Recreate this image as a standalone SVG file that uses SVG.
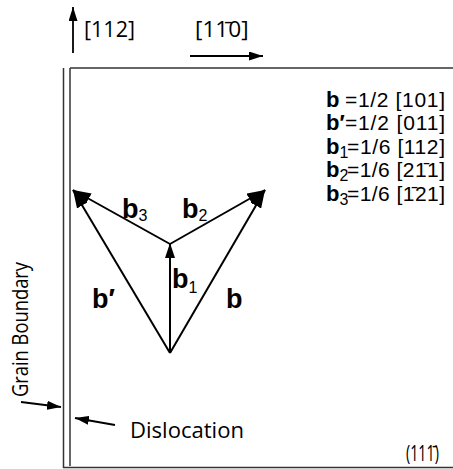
<svg xmlns="http://www.w3.org/2000/svg" width="453" height="469" viewBox="0 0 453 469">
<style>
.frame{stroke:#333;stroke-width:1.5;fill:none}
.vec{stroke:#000;stroke-width:2;fill:none}
.ax{stroke:#000;stroke-width:1.8;fill:none}
.hum{font-family:"Open Sans","Liberation Sans",sans-serif;font-size:22px;fill:#000}
.leg{font-family:"Liberation Sans",Arial,sans-serif;font-size:21px;fill:#000}
.bb{font-family:"Liberation Sans",Arial,sans-serif;font-weight:bold;font-size:27px;fill:#000}
.lb{font-family:"Liberation Sans",Arial,sans-serif;font-weight:bold;font-size:22px;fill:#000}
.sub{font-family:"Liberation Sans",Arial,sans-serif;font-weight:normal;font-size:16px;fill:#000}
</style>
<defs>
<marker id="ah" viewBox="0 0 18 12" refX="18" refY="6" markerWidth="18" markerHeight="12" orient="auto" markerUnits="userSpaceOnUse"><path d="M0,0 L18,6 L0,12 z" fill="#000"/></marker>
<marker id="ah2" viewBox="0 0 15 10" refX="15" refY="5" markerWidth="15" markerHeight="10" orient="auto" markerUnits="userSpaceOnUse"><path d="M0,0 L15,5 L0,10 z" fill="#000"/></marker>
<marker id="ah3" viewBox="0 0 14 9" refX="14" refY="4.5" markerWidth="14" markerHeight="9" orient="auto" markerUnits="userSpaceOnUse"><path d="M0,0 L14,4.5 L0,9 z" fill="#000"/></marker>
</defs>

<g id="frame">
<line class="frame" x1="63.5" y1="68" x2="63.5" y2="468"/>
<line class="frame" x1="70" y1="68" x2="70" y2="466"/>
<line class="frame" x1="70" y1="68" x2="453" y2="68"/>
<line class="frame" x1="63" y1="467.5" x2="453" y2="467.5"/>
</g>

<g id="axes">
<line class="ax" x1="73" y1="53" x2="73" y2="7" marker-end="url(#ah3)"/>
<line class="ax" x1="190" y1="56" x2="263" y2="56" marker-end="url(#ah3)"/>
</g>
<g id="axis-labels">
<text class="hum" x="84" y="37" textLength="51" lengthAdjust="spacingAndGlyphs">[112]</text>
<text class="hum" transform="translate(195,37) scale(1.03,1)" x="0" y="0">[11̄0]</text>
<text class="hum" transform="translate(406,461) scale(0.68,1)" x="0" y="0" style="font-size:21px">(111̄)</text>
</g>

<g id="connectors">
<line class="vec" x1="170" y1="353" x2="73" y2="190" marker-end="url(#ah)"/>
<line class="vec" x1="170" y1="353" x2="265" y2="190" marker-end="url(#ah)"/>
<line class="vec" x1="170" y1="353" x2="170" y2="243" marker-end="url(#ah2)"/>
<line class="vec" x1="170" y1="244" x2="73" y2="190" marker-end="url(#ah)"/>
<line class="vec" x1="170" y1="244" x2="265" y2="190" marker-end="url(#ah)"/>
</g>

<g id="vector-labels">
<text class="bb" x="122" y="218">b<tspan class="sub" dy="3">3</tspan></text>
<text class="bb" x="182" y="218">b<tspan class="sub" dy="3">2</tspan></text>
<text class="bb" x="172" y="288">b<tspan class="sub" dy="5">1</tspan></text>
<text class="bb" x="92" y="308">b′</text>
<text class="bb" x="226" y="308">b</text>
</g>

<g id="legend">
<text class="lb" x="326" y="107">b</text>
<text class="leg" x="345" y="107" textLength="100" lengthAdjust="spacing">=1/2 [101]</text>
<text class="lb" x="326" y="130">b′</text>
<text class="leg" x="345" y="130" textLength="100" lengthAdjust="spacing">=1/2 [011]</text>
<text class="lb" x="326" y="154">b<tspan class="sub" dy="4">1</tspan></text>
<text class="leg" x="347" y="154" textLength="98" lengthAdjust="spacing">=1/6 [112]</text>
<text class="lb" x="326" y="177">b<tspan class="sub" dy="4">2</tspan></text>
<text class="leg" x="347" y="177" textLength="98" lengthAdjust="spacing">=1/6 [21̄1]</text>
<text class="lb" x="326" y="201">b<tspan class="sub" dy="4">3</tspan></text>
<text class="leg" x="347" y="201" textLength="98" lengthAdjust="spacing">=1/6 [1̄21]</text>
</g>

<g id="grain-boundary">
<text class="hum" transform="translate(28,397) rotate(-90)" x="0" y="0" textLength="135" lengthAdjust="spacingAndGlyphs">Grain Boundary</text>
<line class="ax" x1="21" y1="402" x2="61" y2="407" marker-end="url(#ah3)"/>
</g>

<g id="dislocation">
<text class="hum" x="130" y="438" textLength="114" lengthAdjust="spacingAndGlyphs">Dislocation</text>
<line class="ax" x1="115" y1="425" x2="75" y2="418" marker-end="url(#ah3)"/>
</g>
</svg>
